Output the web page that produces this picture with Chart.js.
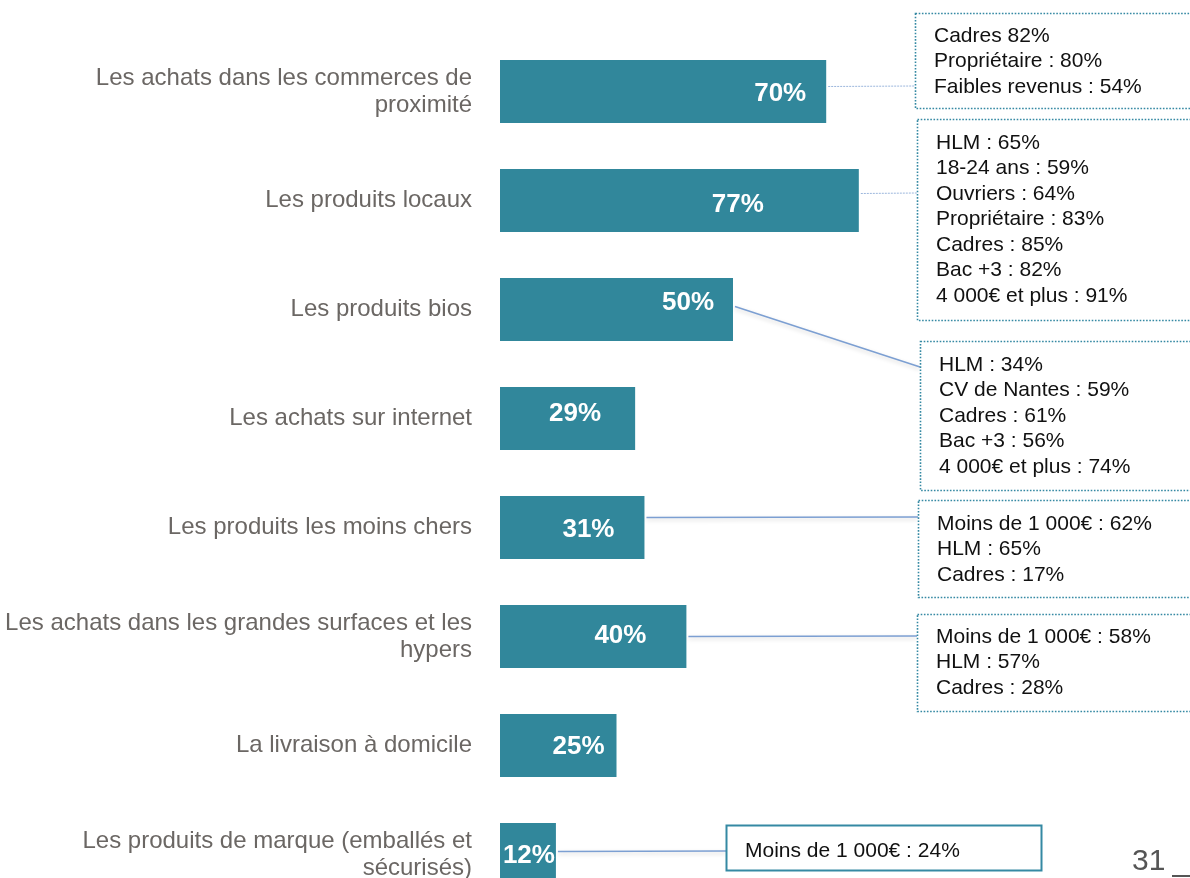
<!DOCTYPE html>
<html>
<head>
<meta charset="utf-8">
<script src="https://cdn.jsdelivr.net/npm/chart.js@4"></script>
<style>
  html, body { margin: 0; padding: 0; background: #fff; overflow: hidden; }
  #wrap { position: relative; width: 1190px; height: 930px; }
</style>
</head>
<body>
<div id="wrap"><canvas id="chart"></canvas></div>
<script>
const categories = [
	['Les achats dans les commerces de', 'proximité'],
	'Les produits locaux',
	'Les produits bios',
	'Les achats sur internet',
	'Les produits les moins chers',
	['Les achats dans les grandes surfaces et les', 'hypers'],
	'La livraison à domicile',
	['Les produits de marque (emballés et', 'sécurisés)'],
];
const values = [70, 77, 50, 29, 31, 40, 25, 12];

// detail boxes, keyed by bar index
const calloutBars = [0, 1, 2, 4, 5, 7];
const calloutTexts = [
	['Cadres 82%', 'Propriétaire : 80%', 'Faibles revenus : 54%'],
	['HLM : 65%', '18-24 ans : 59%', 'Ouvriers : 64%', 'Propriétaire : 83%', 'Cadres : 85%', 'Bac +3 : 82%', '4 000€ et plus : 91%'],
	['HLM : 34%', 'CV de Nantes : 59%', 'Cadres : 61%', 'Bac +3 : 56%', '4 000€ et plus : 74%'],
	['Moins de 1 000€ : 62%', 'HLM : 65%', 'Cadres : 17%'],
	['Moins de 1 000€ : 58%', 'HLM : 57%', 'Cadres : 28%'],
	['Moins de 1 000€ : 24%'],
];
const pageNumber = '31';

// layout of the boxes (pixels)
const boxLayout = [
	{ x: 915, y: 13, w: 285, h: 95, textTop: 36, lineY0: -5, lineY1: 86, style: 'dotted' },
	{ x: 917, y: 119, w: 285, h: 201, textTop: 143, lineY0: -7, lineY1: 193, style: 'dotted' },
	{ x: 920, y: 341, w: 285, h: 149, textTop: 365, lineY0: -3, lineY1: 367, style: 'dotted' },
	{ x: 918, y: 500, w: 285, h: 97, textTop: 524, lineY0: -10, lineY1: 517, style: 'dotted' },
	{ x: 917, y: 614, w: 285, h: 97, textTop: 637, lineY0: 0, lineY1: 636, style: 'dotted' },
	{ x: 726, y: 825, w: 315, h: 45, textTop: 851, lineY0: -3, lineY1: 851, style: 'solid' },
];
const connectorDotted = [true, true, false, false, false, false];
// value label placement: px back from bar end, and vertical nudge
const labelBack = [46, 121, 45, 60, 56, 66, 38, 27];
const labelDy = [2, 4, -7, -5, 2, -1, 1, 1];

const barColor = '#31879b';
const boxColor = '#3589a3';
const lineColor = '#7c9fd2';

const overlay = {
	id: 'overlay',
	afterDatasetsDraw(chart) {
		const ctx = chart.ctx;
		const meta = chart.getDatasetMeta(0);
		ctx.save();
		// value labels
		ctx.fillStyle = '#ffffff';
		ctx.font = 'bold 26px "Liberation Sans", Arial, sans-serif';
		ctx.textAlign = 'center';
		ctx.textBaseline = 'middle';
		meta.data.forEach((bar, i) => {
			ctx.fillText(values[i] + '%', bar.x - labelBack[i], bar.y + labelDy[i]);
		});

		// connectors and boxes
		calloutBars.forEach((bi, k) => {
			const bar = meta.data[bi];
			const b = boxLayout[k];
			ctx.save();
			ctx.strokeStyle = lineColor;
			if (connectorDotted[k]) {
				ctx.lineWidth = 1;
				ctx.setLineDash([2, 1]);
				ctx.strokeStyle = '#9bb6dc';
			} else {
				ctx.lineWidth = 1.5;
				ctx.shadowColor = 'rgba(0,0,0,0.18)';
				ctx.shadowBlur = 4;
				ctx.shadowOffsetY = 2;
			}
			ctx.beginPath();
			ctx.moveTo(bar.x + 2, bar.y + b.lineY0);
			ctx.lineTo(b.x, b.lineY1);
			ctx.stroke();
			ctx.restore();

			ctx.save();
			ctx.fillStyle = '#ffffff';
			ctx.fillRect(b.x, b.y, b.w, b.h);
			ctx.strokeStyle = boxColor;
			if (b.style === 'dotted') {
				ctx.lineWidth = 1.6;
				ctx.setLineDash([1.6, 1.6]);
			} else {
				ctx.lineWidth = 2;
			}
			ctx.strokeRect(b.x + 0.5, b.y + 0.5, b.w, b.h);
			ctx.restore();

			ctx.fillStyle = '#111111';
			ctx.font = '21px "Liberation Sans", Arial, sans-serif';
			ctx.textAlign = 'left';
			ctx.textBaseline = 'middle';
			calloutTexts[k].forEach((t, j) => {
				ctx.fillText(t, b.x + 19, b.textTop + j * 25.5);
			});
		});

		// page number
		ctx.fillStyle = '#555555';
		ctx.font = '30px "Liberation Sans", Arial, sans-serif';
		ctx.textAlign = 'left';
		ctx.textBaseline = 'middle';
		ctx.fillText(pageNumber, 1132, 862);
		ctx.fillRect(1172, 875, 18, 2);
		ctx.restore();
	},
};

const chart = new Chart(document.getElementById('chart'), {
	type: 'bar',
	data: {
		labels: categories,
		datasets: [
			{
				data: values,
				backgroundColor: barColor,
				borderWidth: 0,
				categoryPercentage: 1,
				barPercentage: 0.58,
			},
		],
	},
	options: {
		indexAxis: 'y',
		responsive: true,
		maintainAspectRatio: false,
		animation: false,
		layout: { padding: { top: 37, bottom: 21, left: 0, right: 224 } },
		plugins: {
			legend: { display: false },
			tooltip: { enabled: false },
		},
		scales: {
			x: {
				display: false,
				min: 0,
				max: 100,
			},
			y: {
				grid: { display: false, drawTicks: false },
				border: { display: false },
				ticks: {
					color: '#6b6764',
					padding: 28,
					font: { family: '"Liberation Sans", Arial, sans-serif', size: 24, lineHeight: 1.125 },
				},
				afterFit(scale) {
					scale.width = 500;
					scale.paddingTop = 0;
					scale.paddingBottom = 0;
				},
			},
		},
	},
	plugins: [overlay],
});
</script>
</body>
</html>
